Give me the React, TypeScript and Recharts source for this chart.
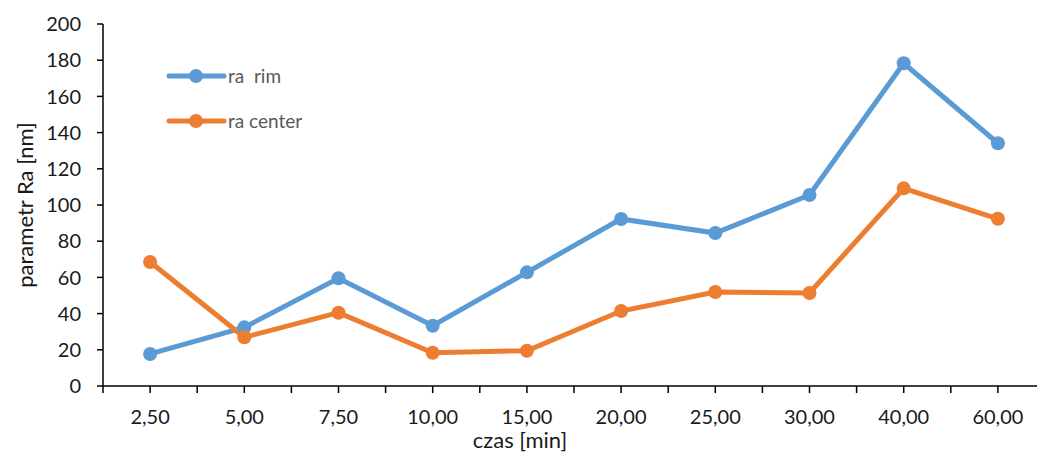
import { LineChart, Line, XAxis, YAxis } from "recharts";

const categories = ["2,50", "5,00", "7,50", "10,00", "15,00", "20,00", "25,00", "30,00", "40,00", "60,00"];
const raRim = [17.7, 32.4, 59.5, 33.3, 62.8, 92.3, 84.5, 105.5, 178.3, 134.1];
const raCenter = [68.5, 26.9, 40.5, 18.4, 19.5, 41.4, 51.9, 51.4, 109.2, 92.4];
const yTicks = [0, 20, 40, 60, 80, 100, 120, 140, 160, 180, 200];

const BLUE = "#5B9BD5";
const ORANGE = "#ED7D31";
const FONT = "Lato, 'Open Sans', sans-serif";

// each category sits in the middle of its slot; ticks at slot edges and centres
const data = categories.map((c, i) => ({
  pos: i + 0.5,
  label: c,
  rim: raRim[i],
  center: raCenter[i],
}));
const xTicks = categories.flatMap((_, i) => [i, i + 0.5]).concat(categories.length);

const legendItems = [
  { name: "ra  rim", color: BLUE },
  { name: "ra center", color: ORANGE },
];

function LegendBox() {
  return (
    <div
      style={{
        position: "absolute",
        left: 166,
        top: 53,
        fontFamily: FONT,
        fontSize: 19,
        color: "#595959",
      }}
    >
      {legendItems.map((it) => (
        <div key={it.name} style={{ display: "flex", alignItems: "center", height: 45 }}>
          <svg width={62} height={16}>
            <line x1={3} y1={8} x2={58} y2={8} stroke={it.color} strokeWidth={5} strokeLinecap="round" />
            <circle cx={30} cy={8} r={7} fill={it.color} />
          </svg>
          <span style={{ whiteSpace: "pre" }}>{it.name}</span>
        </div>
      ))}
    </div>
  );
}

export default function App() {
  return (
    <div
      style={{
        position: "absolute",
        left: 0,
        top: 0,
        width: 1037,
        height: 454,
        overflow: "hidden",
        background: "#fff",
      }}
    >
      <LineChart width={1046} height={454} data={data} margin={{ top: 24, right: 1, bottom: 0, left: 0 }}>
        <XAxis
          dataKey="pos"
          type="number"
          domain={[0, categories.length]}
          ticks={xTicks}
          interval={0}
          height={68}
          tickSize={7}
          tickMargin={17}
          tickFormatter={(v: number) => (Number.isInteger(v) ? "" : categories[Math.floor(v)])}
          tick={{ fontSize: 20, fill: "#1a1a1a", fontFamily: FONT }}
          axisLine={{ stroke: "#000", strokeWidth: 1.5 }}
          tickLine={{ stroke: "#000", strokeWidth: 1.5 }}
          label={{
            value: "czas [min]",
            position: "insideBottom",
            offset: 6,
            dx: -54,
            style: { fontSize: 22, fill: "#1a1a1a", fontFamily: FONT },
          }}
        />
        <YAxis
          domain={[0, 200]}
          ticks={yTicks}
          interval={0}
          width={103}
          tickSize={6}
          tickMargin={16}
          tick={{ fontSize: 20, fill: "#1a1a1a", fontFamily: FONT }}
          axisLine={{ stroke: "#000", strokeWidth: 1.5 }}
          tickLine={{ stroke: "#000", strokeWidth: 1.5 }}
          label={{
            value: "parametr Ra [nm]",
            angle: -90,
            position: "insideLeft",
            offset: 25,
            style: { textAnchor: "middle", fontSize: 22, fill: "#1a1a1a", fontFamily: FONT },
          }}
        />
        <Line
          type="linear"
          dataKey="rim"
          stroke={BLUE}
          strokeWidth={5}
          dot={{ r: 7, fill: BLUE, stroke: BLUE, strokeWidth: 0 }}
          activeDot={false}
          isAnimationActive={false}
        />
        <Line
          type="linear"
          dataKey="center"
          stroke={ORANGE}
          strokeWidth={5}
          dot={{ r: 7, fill: ORANGE, stroke: ORANGE, strokeWidth: 0 }}
          activeDot={false}
          isAnimationActive={false}
        />
      </LineChart>
      <LegendBox />
    </div>
  );
}
